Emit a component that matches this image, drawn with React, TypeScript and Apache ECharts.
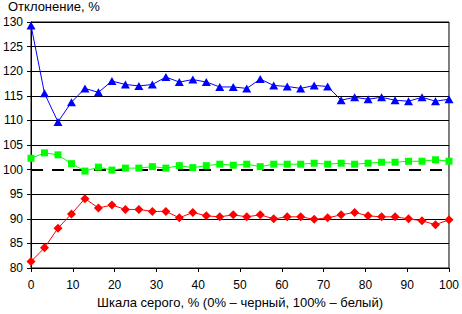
import React, { useEffect, useRef } from "react";
import * as echarts from "echarts";

// Gray-scale steps, 0..100 % in 31 equal intervals
const steps: number[] = Array.from({ length: 32 }, (_, i) => (i * 100) / 31);

const blueValues = [
  129.3, 115.5, 109.7, 113.7, 116.5, 115.7, 118.0, 117.3, 117.0, 117.3, 118.8,
  117.8, 118.3, 117.8, 116.8, 116.8, 116.5, 118.4, 117.1, 116.9, 116.5, 117.1,
  116.9, 114.1, 114.7, 114.3, 114.7, 114.1, 113.9, 114.7, 113.9, 114.3,
];
const greenValues = [
  102.3, 103.4, 103.0, 101.2, 99.7, 100.5, 99.9, 100.3, 100.3, 100.6, 100.3,
  100.8, 100.4, 100.8, 101.1, 100.9, 101.1, 100.6, 101.1, 101.1, 101.1, 101.3,
  101.1, 101.3, 101.1, 101.3, 101.5, 101.5, 101.7, 101.7, 102.0, 101.7,
];
const redValues = [
  81.3, 84.1, 88.1, 91.0, 94.1, 92.2, 92.8, 91.9, 91.9, 91.5, 91.5, 90.2, 91.3,
  90.6, 90.4, 90.8, 90.4, 90.8, 90.0, 90.4, 90.4, 89.9, 90.2, 90.8, 91.3, 90.6,
  90.4, 90.4, 90.0, 89.6, 88.8, 89.8,
];

const gridValues = [85, 90, 95, 105, 110, 115, 120, 125, 130];
const referenceLevel = 100;

const yTitle = "Отклонение, %";
const xTitle = "Шкала серого, % (0% – черный, 100% – белый)";

const FONT = "Liberation Sans";

const pair = (vals: number[]) => vals.map((v, i) => [steps[i], v]);

export default function App() {
  const ref = useRef<HTMLDivElement>(null);

  useEffect(() => {
    if (!ref.current) return;
    const chart = echarts.init(ref.current, null, { renderer: "svg" });
    chart.setOption({
      animation: false,
      backgroundColor: "#fff",
      textStyle: { fontFamily: FONT },
      grid: {
        left: 30,
        right: 10,
        top: 22,
        bottom: 43,
        show: true,
        borderColor: "#000",
        borderWidth: 1,
      },
      graphic: [
        {
          type: "text",
          left: 8,
          top: 0,
          style: { text: yTitle, font: `13px ${FONT}`, fill: "#000" },
        },
      ],
      xAxis: {
        type: "value",
        min: 0,
        max: 100,
        interval: 10,
        name: xTitle,
        nameLocation: "middle",
        nameGap: 28,
        nameTextStyle: { fontSize: 13, color: "#000", fontFamily: FONT },
        axisLine: { show: true, lineStyle: { color: "#000", width: 1 } },
        axisTick: { show: true, length: 4, lineStyle: { color: "#000" } },
        axisLabel: { color: "#000", fontSize: 12, margin: 11, fontFamily: FONT },
        splitLine: { show: false },
      },
      yAxis: {
        type: "value",
        min: 80,
        max: 130,
        interval: 5,
        axisLine: { show: true, lineStyle: { color: "#000", width: 1 } },
        axisTick: { show: true, length: 4, lineStyle: { color: "#000" } },
        axisLabel: { color: "#000", fontSize: 12, margin: 8, fontFamily: FONT },
        splitLine: { show: false },
      },
      series: [
        {
          type: "line",
          data: [],
          silent: true,
          markLine: {
            silent: true,
            symbol: "none",
            label: { show: false },
            lineStyle: { color: "#000", width: 1, type: "solid" },
            data: [
              ...gridValues.map((v) => ({ yAxis: v })),
              {
                yAxis: referenceLevel,
                lineStyle: { color: "#000", width: 2, type: [12, 9] },
              },
            ],
          },
        },
        {
          type: "line",
          data: pair(blueValues),
          symbol: "triangle",
          symbolSize: [9, 8],
          lineStyle: { color: "#0000ff", width: 1 },
          itemStyle: { color: "#0000ff" },
          z: 5,
        },
        {
          type: "line",
          data: pair(greenValues),
          symbol: "rect",
          symbolSize: 7,
          lineStyle: { color: "#00ff00", width: 1 },
          itemStyle: { color: "#00ff00" },
          z: 5,
        },
        {
          type: "line",
          data: pair(redValues),
          symbol: "diamond",
          symbolSize: [9, 9],
          lineStyle: { color: "#ff0000", width: 1 },
          itemStyle: { color: "#ff0000" },
          z: 5,
        },
      ],
    });
    return () => chart.dispose();
  }, []);

  return <div ref={ref} style={{ width: 462, height: 314, position: "absolute", left: 0, top: 0 }} />;
}
